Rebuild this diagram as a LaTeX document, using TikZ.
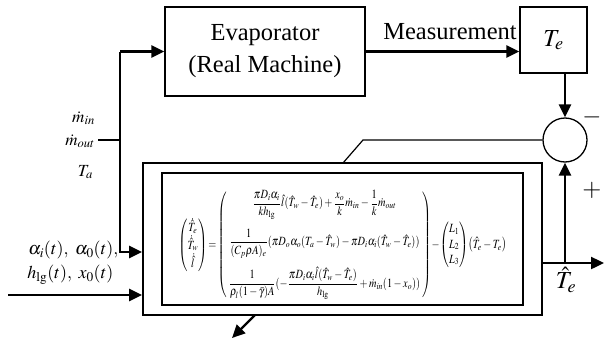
\documentclass[tikz,border=0pt]{standalone}
\usepackage{amsmath}
\usepackage{mathptmx}
\usepackage{fontspec}
\setmainfont{Liberation Serif}
\usetikzlibrary{arrows.meta,calc}
\begin{document}
\begin{tikzpicture}[x=1pt,y=-1pt,
  box/.style={draw,line width=1.3pt,inner sep=0pt},
  bigtext/.style={font=\fontsize{24.5}{32}\selectfont},
  midtext/.style={font=\fontsize{18}{22}\selectfont},
  smalltext/.style={font=\fontsize{17}{20}\selectfont},
  fatline/.style={line width=2.4pt},
  fatarrow/.style={line width=2.4pt,-{Triangle[length=13pt,width=12pt]}},
  thinline/.style={line width=1.2pt}]
\useasboundingbox (0,0) rectangle (605,343);

% blocks
\node[box,bigtext,align=center,minimum width=200pt,minimum height=89pt] (evap) at (265,51.5) {Evaporator\\(Real Machine)};
\node[box,bigtext,minimum width=67pt,minimum height=66pt] (te) at (553.5,40) {$T_e$};
\node[draw,circle,line width=1.3pt,minimum size=44pt,inner sep=0pt] (sum) at (565,140) {};
\node[box,line width=1.8pt,minimum width=399pt,minimum height=152pt] (outer) at (342.5,239) {};
\node[box,minimum width=361pt,minimum height=132pt] (inner) at (342.5,239) {};
\node[inner sep=0pt] (eq) at (342.5,245) {\resizebox*{328pt}{110pt}{\setlength{\arraycolsep}{2pt}$\displaystyle
\begin{pmatrix}\dot{\hat T}_e\\ \dot{\hat T}_w\\ \dot{\hat l}\end{pmatrix}
\!=\!\left(\begin{array}{c}
\dfrac{\pi D_i\alpha_i}{k h_{\mathrm{lg}}}\hat l(\hat T_w-\hat T_e)+\dfrac{x_o}{k}\dot m_{in}-\dfrac1k\dot m_{out}\\[3ex]
\dfrac{1}{(C_p\rho A)_e}(\pi D_o\alpha_o(T_a-\hat T_w)-\pi D_i\alpha_i(\hat T_w-\hat T_e))\\[3ex]
\dfrac{1}{\rho_l(1-\bar\gamma)A}(-\dfrac{\pi D_i\alpha_i\hat l(\hat T_w-\hat T_e)}{h_{\mathrm{lg}}}+\dot m_{in}(1-x_o))
\end{array}\right)
\!-\!\begin{pmatrix}L_1\\ L_2\\ L_3\end{pmatrix}\!\left(\hat T_e-T_e\right)$}};

% coordinates
\coordinate (split) at (120,51.5);
\coordinate (bend) at (120,252);
\coordinate (minput) at (98,140);
\coordinate (ain) at (8,295);
\coordinate (out) at (604,263);
\coordinate (tap) at (565,263);
\coordinate (fb) at (363,140);
\coordinate (fbend) at (343,163);
\coordinate (dstart) at (255,315);
\coordinate (dend) at (232,338);

% connectors
\draw[fatarrow] (split) -- (evap.west);
\draw[fatarrow] (split) -- (bend) -- (bend -| outer.west);
\draw[thinline] (minput) -- (minput -| split);
\draw[fatarrow] (ain) -- (ain -| outer.west);
\draw[fatarrow] (evap.east) -- (evap.east -| te.west);
\draw[fatarrow] (te.south -| sum) -- (sum.north);
\draw[fatline] (outer.east |- out) -- (tap);
\draw[fatarrow] (tap) -- (out);
\draw[fatarrow] (tap) -- (sum.south);
\draw[thinline] (sum.west) -- (fb) -- (fbend);
\draw[fatarrow] (dstart) -- (dend);

% labels
\node[bigtext] (meas) at (450,32) {Measurement};
\node[smalltext,anchor=east,inner sep=1pt] (lmin) at (96,118) {$\dot m_{in}$};
\node[smalltext,anchor=east,inner sep=1pt] (lmout) at (96,141) {$\dot m_{out}$};
\node[smalltext,anchor=east,inner sep=1pt] (lta) at (94,172) {$T_a$};
\node[midtext,anchor=east] (la1) at (122,250) {$\alpha_i(t),\ \alpha_0(t),$};
\node[midtext,anchor=east] (la2) at (117,275) {$h_{\mathrm{lg}}(t),\ x_0(t)$};
\node[bigtext] (lminus) at (592,117) {$-$};
\node[bigtext] (lplus) at (592,190) {$+$};
\node[bigtext] (lthat) at (566,280) {$\hat T_e$};
\end{tikzpicture}
\end{document}
